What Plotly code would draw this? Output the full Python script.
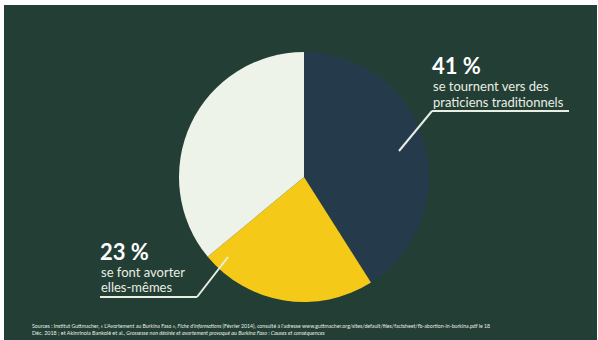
import plotly.graph_objects as go

W, H = 598, 340

labels = ["se tournent vers des praticiens traditionnels", "se font avorter elles-mêmes", "autres"]
values = [41, 23, 36]
colors = ["#253b4b", "#f5c918", "#eef3ea"]

BG = "#233e35"
TXT = "#e9eee3"

def px(x):
    return x / W

def py(y):
    return 1 - y / H

fig = go.Figure()

cx, cy, r = 304, 177, 125
fig.add_trace(go.Pie(
    labels=labels, values=values, sort=False, direction="clockwise", rotation=0,
    marker=dict(colors=colors, line=dict(width=0)),
    textinfo="none", hoverinfo="label+percent", showlegend=False,
    domain=dict(x=[px(cx - r), px(cx + r)], y=[py(cy + r), py(cy - r)]),
))

shapes = [
    dict(type="rect", xref="paper", yref="paper", x0=px(4), x1=px(597), y0=0, y1=py(5),
         fillcolor=BG, line=dict(width=0), layer="below"),
    # leader 41 %
    dict(type="line", xref="paper", yref="paper", x0=px(432), y0=py(111), x1=px(569), y1=py(111),
         line=dict(color=TXT, width=2)),
    dict(type="line", xref="paper", yref="paper", x0=px(432), y0=py(111), x1=px(399), y1=py(151),
         line=dict(color=TXT, width=2)),
    # leader 23 %
    dict(type="line", xref="paper", yref="paper", x0=px(100), y0=py(297), x1=px(197), y1=py(297),
         line=dict(color=TXT, width=2)),
    dict(type="line", xref="paper", yref="paper", x0=px(197), y0=py(297), x1=px(228), y1=py(257),
         line=dict(color=TXT, width=2)),
]

FONT = "Lato"
def ann(x, y, text, size, bold=False):
    t = f"<b>{text}</b>" if bold else text
    return dict(x=px(x), y=py(y), xref="paper", yref="paper", text=t, showarrow=False,
                xanchor="left", yanchor="middle", align="left",
                font=dict(family=FONT, size=size, color=TXT if not bold else "#ffffff"))

annotations = [
    ann(430, 66, f"{values[0]}&nbsp;%", 22, bold=True),
    ann(431, 86, "se tournent vers des", 13),
    ann(431, 102, "praticiens traditionnels", 13),
    ann(98, 251, f"{values[1]}&nbsp;%", 22, bold=True),
    ann(99, 272, "se font avorter", 13),
    ann(99, 287, "elles-mêmes", 13),
    ann(30, 326, "Sources : Institut Guttmacher, « L'Avortement au Burkina Faso », <i>Fiche d'informations</i> (Février 2014), consulté à l'adresse www.guttmacher.org/sites/default/files/factsheet/fb-abortion-in-burkina.pdf le 18", 5.2),
    ann(30, 333, "Déc. 2018 ; et Akinrinola Bankolé et al., <i>Grossesse non désirée et avortement provoqué au Burkina Faso : Causes et conséquences</i>", 5.4),
]

fig.update_layout(
    width=W, height=H, margin=dict(l=0, r=0, t=0, b=0),
    paper_bgcolor="#ffffff", plot_bgcolor="#ffffff",
    shapes=shapes, annotations=annotations,
)

fig.write_html("out.html")
